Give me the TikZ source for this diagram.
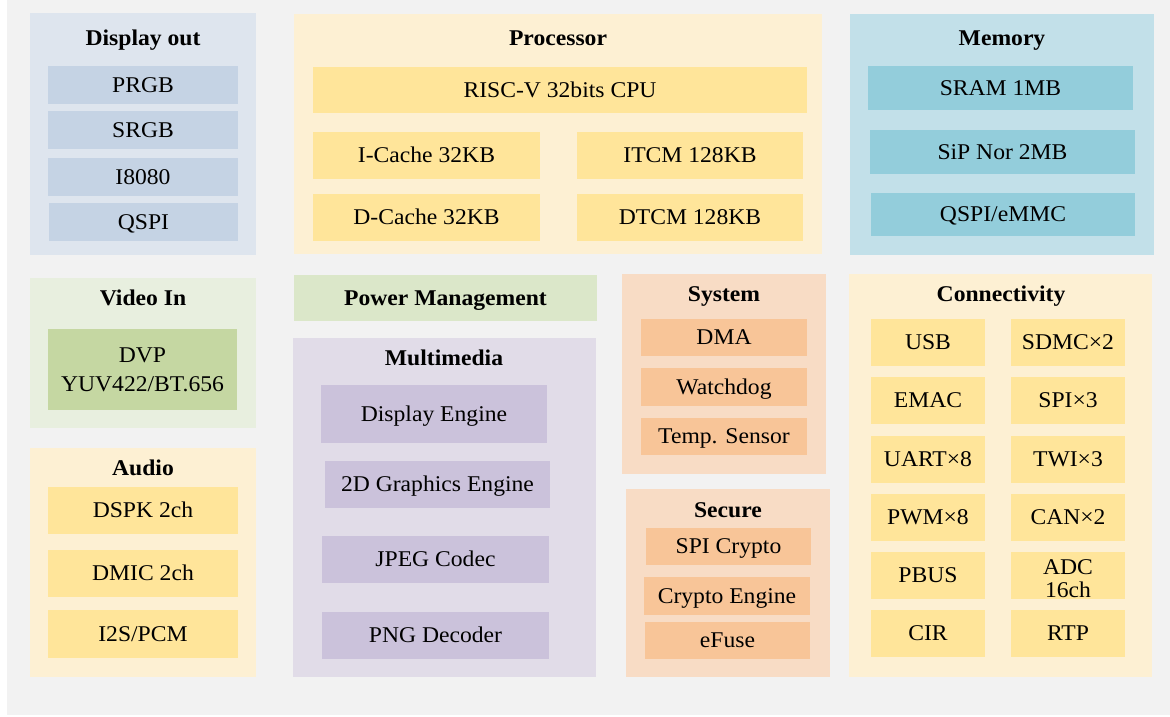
\documentclass[tikz,border=0pt]{standalone}
\usepackage{fontspec}
\setmainfont{Liberation Serif}[FakeStretch=1.05]
\definecolor{bgc}{HTML}{F2F2F2}
\definecolor{dispO}{HTML}{DEE5EE}
\definecolor{dispI}{HTML}{C5D3E4}
\definecolor{yelO}{HTML}{FDF0D3}
\definecolor{yelI}{HTML}{FFE59A}
\definecolor{memO}{HTML}{C2E0E9}
\definecolor{memI}{HTML}{93CDDB}
\definecolor{vidO}{HTML}{E8EFDF}
\definecolor{vidI}{HTML}{C5D7A2}
\definecolor{pwr}{HTML}{DBE7C9}
\definecolor{mmO}{HTML}{E1DCE8}
\definecolor{mmI}{HTML}{CBC2DB}
\definecolor{sysO}{HTML}{F8DCC5}
\definecolor{sysI}{HTML}{F8C598}
\tikzset{
  box/.style={inner sep=0pt, outer sep=0pt, draw=none, align=center},
  ttl/.style={inner sep=0pt, font=\bfseries, anchor=base},
  dO/.style={box, fill=dispO}, dI/.style={box, fill=dispI},
  yO/.style={box, fill=yelO}, yI/.style={box, fill=yelI},
  mO/.style={box, fill=memO}, mI/.style={box, fill=memI},
  vO/.style={box, fill=vidO}, vI/.style={box, fill=vidI},
  pw/.style={box, fill=pwr, font=\bfseries},
  mmO/.style={box, fill=mmO}, mmI/.style={box, fill=mmI},
  sO/.style={box, fill=sysO}, sI/.style={box, fill=sysI},
  lbl/.style={inner sep=0pt, align=center, text height=0.66em, text depth=0pt},
}
% name, x1, y1, x2, y2, style, text
\newcommand\blk[7]{%
  \pgfmathsetmacro\bw{#4-#2}\pgfmathsetmacro\bh{#5-#3}%
  \pgfmathsetmacro\bx{(#2+#4)/2}\pgfmathsetmacro\by{(#3+#5)/2}%
  \node[#6, minimum width=\bw pt, minimum height=\bh pt] (#1) at (\bx,\by) {};
  \node[lbl] (#1-t) at (#1.center) {#7};}
\begin{document}
\begin{tikzpicture}[x=1pt, y=-1pt]
\fontsize{22.5}{24}\selectfont
\useasboundingbox (0,0) rectangle (1170,716);
\fill[white] (0,0) rectangle (1170,716);
\fill[bgc] (7,0) rectangle (1170,715);
% Display out
\blk{gdisp}{30}{13}{256}{255}{dO}{}
\node[ttl] (tdisp) at (143,45) {Display out};
\blk{prgb}{48}{66}{238}{104}{dI}{PRGB}
\blk{srgb}{48}{111}{238}{149}{dI}{SRGB}
\blk{i8080}{48}{158}{238}{196}{dI}{I8080}
\blk{qspi}{49}{203}{238}{241}{dI}{QSPI}
% Processor
\blk{gproc}{294}{14}{822}{254}{yO}{}
\node[ttl] (tproc) at (558,45) {Processor};
\blk{cpu}{313}{67}{807}{113}{yI}{RISC-V 32bits CPU}
\blk{icache}{313}{132}{540}{179}{yI}{I-Cache 32KB}
\blk{itcm}{577}{132}{803}{179}{yI}{ITCM 128KB}
\blk{dcache}{313}{194}{540}{241}{yI}{D-Cache 32KB}
\blk{dtcm}{577}{194}{803}{241}{yI}{DTCM 128KB}
% Memory
\blk{gmem}{850}{14}{1154}{255}{mO}{}
\node[ttl] (tmem) at (1002,45) {Memory};
\blk{sram}{868}{66}{1133}{110}{mI}{SRAM 1MB}
\blk{nor}{870}{130}{1135}{174}{mI}{SiP Nor 2MB}
\blk{emmc}{871}{193}{1135}{236}{mI}{QSPI/eMMC}
% Video In
\blk{gvid}{30}{278}{256}{428}{vO}{}
\node[ttl] (tvid) at (143,305) {Video In};
\blk{dvp}{48}{329}{237}{410}{vI}{}
\node[inner sep=0pt, align=center, font=\fontsize{22.5}{29}\selectfont] (dvpt) at (142.5,370) {DVP\\YUV422/BT.656};
% Audio
\blk{gaud}{30}{448}{256}{677}{yO}{}
\node[ttl] (taud) at (143,475) {Audio};
\blk{dspk}{48}{487}{238}{534}{yI}{DSPK 2ch}
\blk{dmic}{48}{550}{238}{597}{yI}{DMIC 2ch}
\blk{i2s}{48}{610}{238}{658}{yI}{I2S/PCM}
% Power Management
\blk{pwrm}{294}{275}{597}{321}{pw}{\bfseries Power Management}
% Multimedia
\blk{gmm}{293}{338}{596}{677}{mmO}{}
\node[ttl] (tmm) at (444,365) {Multimedia};
\blk{de}{321}{385}{547}{443}{mmI}{Display Engine}
\blk{g2d}{325}{461}{550}{508}{mmI}{2D Graphics Engine}
\blk{jpeg}{322}{536}{549}{583}{mmI}{JPEG Codec}
\blk{png}{322}{612}{549}{659}{mmI}{PNG Decoder}
% System
\blk{gsys}{622}{274}{826}{474}{sO}{}
\node[ttl] (tsys) at (724,301) {System};
\blk{dma}{641}{319}{807}{356}{sI}{DMA}
\blk{wdog}{641}{368}{807}{406}{sI}{Watchdog}
\blk{temp}{641}{418}{807}{455}{sI}{Temp. Sensor}
% Secure
\blk{gsec}{626}{489}{830}{677}{sO}{}
\node[ttl] (tsec) at (728,517) {Secure};
\blk{spic}{646}{528}{811}{565}{sI}{SPI Crypto}
\blk{ce}{644}{577}{810}{615}{sI}{Crypto Engine}
\blk{efuse}{645}{622}{810}{659}{sI}{eFuse}
% Connectivity
\blk{gcon}{849}{274}{1152}{677}{yO}{}
\node[ttl] (tcon) at (1001,301) {Connectivity};
\blk{usb}{871}{319}{985}{366}{yI}{USB}
\blk{sdmc}{1011}{319}{1125}{366}{yI}{SDMC×2}
\blk{emac}{871}{377}{985}{424}{yI}{EMAC}
\blk{spi}{1011}{377}{1125}{424}{yI}{SPI×3}
\blk{uart}{871}{436}{985}{483}{yI}{UART×8}
\blk{twi}{1011}{436}{1125}{483}{yI}{TWI×3}
\blk{pwm}{871}{494}{985}{541}{yI}{PWM×8}
\blk{can}{1011}{494}{1125}{541}{yI}{CAN×2}
\blk{pbus}{871}{552}{985}{599}{yI}{PBUS}
\blk{adc}{1011}{552}{1125}{599}{yI}{}
\node[inner sep=0pt, align=center, font=\fontsize{22.5}{23}\selectfont] (adct) at (1068,579) {ADC\\16ch};
\blk{cir}{871}{610}{985}{657}{yI}{CIR}
\blk{rtp}{1011}{610}{1125}{657}{yI}{RTP}
\end{tikzpicture}
\end{document}
